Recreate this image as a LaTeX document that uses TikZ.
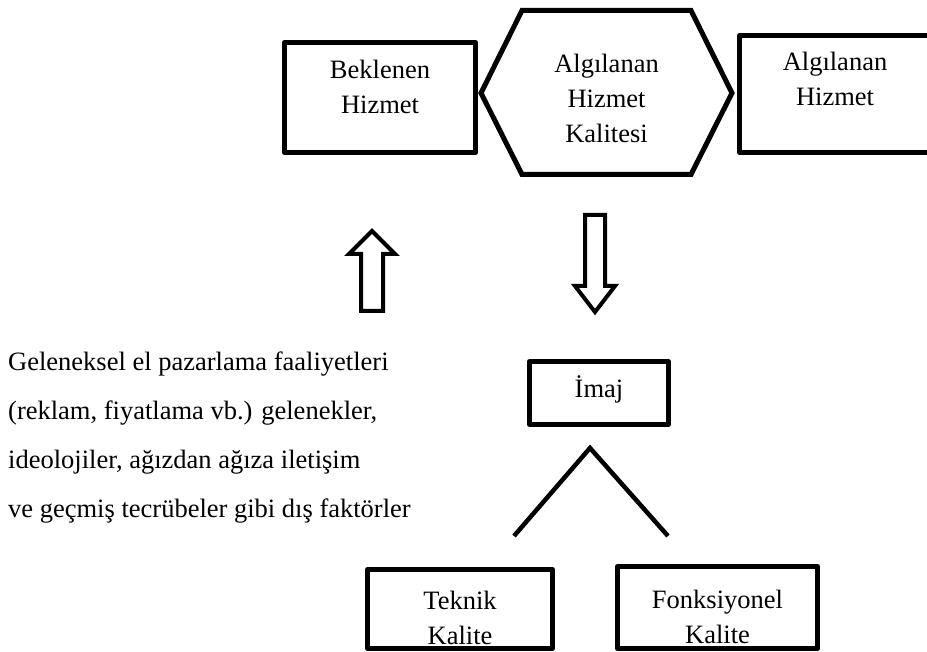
\documentclass[tikz,border=0pt]{standalone}
\usepackage{fontspec}
\setmainfont{Liberation Serif}
\tikzstyle{kutu}=[draw,line width=5pt,line join=round,inner sep=0pt]
\tikzstyle{yazi}=[align=center,inner sep=0pt,font=\fontsize{26.5}{35}\selectfont]
\tikzstyle{blokok}=[draw,line width=4pt,line join=miter]

\begin{document}
\begin{tikzpicture}[x=1pt,y=-1pt]
		\useasboundingbox (0,0) rectangle (927,652);
		\clip (0,0) rectangle (927,652);

		% ust sira
		\node[kutu,minimum width=191pt,minimum height=110pt] (beklenen) at (380,97.5) {};
		\node[yazi] (beklenenyazi) at (380,86.5) {Beklenen\\Hizmet};
		\draw[line width=5pt] (481,93) -- (522,10.5) -- (691,10.5) -- (732,93) -- (691,174.5) -- (522,174.5) -- cycle;
		\node[yazi] (kalite) at (606.5,98) {Algılanan\\Hizmet\\Kalitesi};
		\node[kutu,minimum width=191pt,minimum height=117pt] (algilanan) at (835,94) {};
		\node[yazi] (algilananyazi) at (835,78.5) {Algılanan\\Hizmet};

		% oklar
		\draw[blokok] (372,231) -- (395,254) -- (383,254) -- (383,311) -- (361,311) -- (361,254) -- (349,254) -- cycle;
		\draw[blokok] (585,215) -- (605,215) -- (605,286) -- (615,286) -- (595,312) -- (575,286) -- (585,286) -- cycle;

		% dis faktorler
		\node[align=left,inner sep=0pt,anchor=west,font=\fontsize{26.5}{49}\selectfont] (faktorler) at (8,438) {Geleneksel el pazarlama faaliyetleri\\(reklam, fiyatlama vb.) gelenekler,\\ideolojiler, ağızdan ağıza iletişim\\ve geçmiş tecrübeler gibi dış faktörler};

		% imaj
		\node[kutu,minimum width=139pt,minimum height=63pt] (imaj) at (599,393) {};
		\node[yazi] (imajyazi) at (599,389) {İmaj};
		\coordinate (tepe) at (590,448);
		\coordinate (sol) at (514,536);
		\coordinate (sag) at (668,536);
		\draw[line width=4.5pt] (sol) -- (tepe) -- (sag);

		\node[kutu,minimum width=185pt,minimum height=79pt] (teknik) at (460,609) {};
		\node[yazi] (teknikyazi) at (460,618) {Teknik\\Kalite};
		\node[kutu,minimum width=200pt,minimum height=82pt] (fonksiyonel) at (717.5,607.5) {};
		\node[yazi] (fonksiyonelyazi) at (717.5,617) {Fonksiyonel\\Kalite};
	\end{tikzpicture}
\end{document}
